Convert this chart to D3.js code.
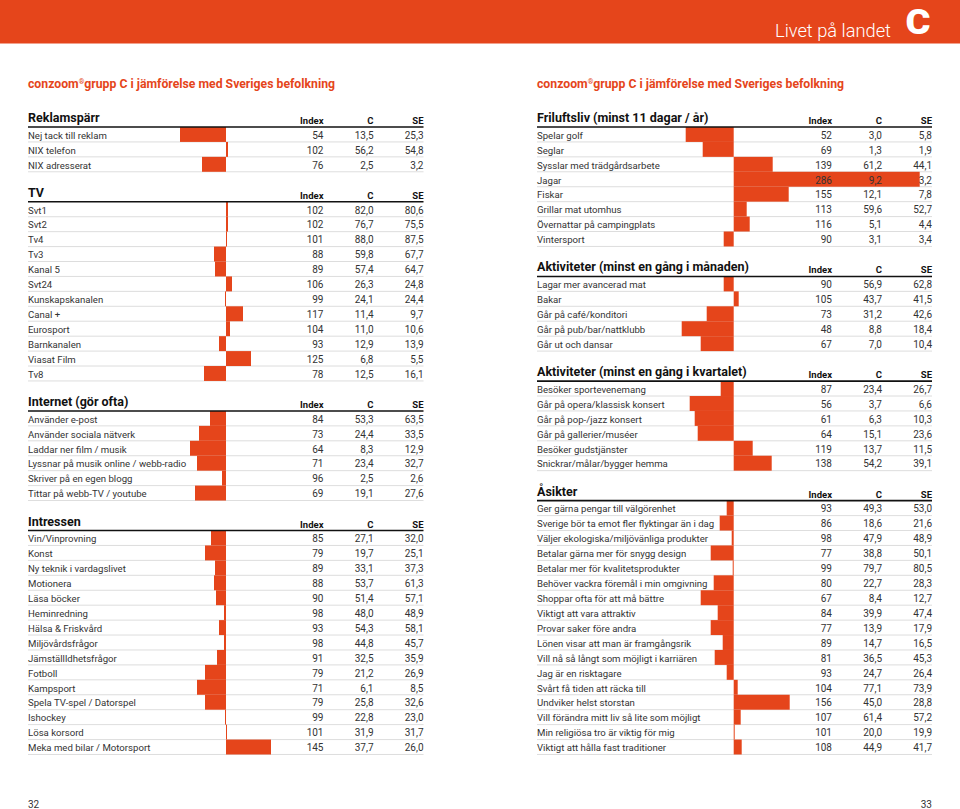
<!DOCTYPE html>
<html><head><meta charset="utf-8">
<script src="https://cdn.jsdelivr.net/npm/d3@7"></script>
<style>body{margin:0;background:#fff} svg{display:block}</style>
</head><body><svg id="c" width="960" height="809"></svg>
<script>
// ---------- DATA ----------
const reklamTitle = "Reklamspärr";
const reklamLabels = ["Nej tack till reklam", "NIX telefon", "NIX adresserat"];
const reklamIndex = [54, 102, 76];
const reklamC = [13.5, 56.2, 2.5];
const reklamSE = [25.3, 54.8, 3.2];

const tvTitle = "TV";
const tvLabels = ["Svt1", "Svt2", "Tv4", "Tv3", "Kanal 5", "Svt24", "Kunskapskanalen", "Canal +", "Eurosport", "Barnkanalen", "Viasat Film", "Tv8"];
const tvIndex = [102, 102, 101, 88, 89, 106, 99, 117, 104, 93, 125, 78];
const tvC = [82.0, 76.7, 88.0, 59.8, 57.4, 26.3, 24.1, 11.4, 11.0, 12.9, 6.8, 12.5];
const tvSE = [80.6, 75.5, 87.5, 67.7, 64.7, 24.8, 24.4, 9.7, 10.6, 13.9, 5.5, 16.1];

const netTitle = "Internet (gör ofta)";
const netLabels = ["Använder e-post", "Använder sociala nätverk", "Laddar ner film / musik", "Lyssnar på musik online / webb-radio", "Skriver på en egen blogg", "Tittar på webb-TV / youtube"];
const netIndex = [84, 73, 64, 71, 96, 69];
const netC = [53.3, 24.4, 8.3, 23.4, 2.5, 19.1];
const netSE = [63.5, 33.5, 12.9, 32.7, 2.6, 27.6];

const intTitle = "Intressen";
const intLabels = ["Vin/Vinprovning", "Konst", "Ny teknik i vardagslivet", "Motionera", "Läsa böcker", "Heminredning", "Hälsa & Friskvård", "Miljövårdsfrågor", "Jämställldhetsfrågor", "Fotboll", "Kampsport", "Spela TV-spel / Datorspel", "Ishockey", "Lösa korsord", "Meka med bilar / Motorsport"];
const intIndex = [85, 79, 89, 88, 90, 98, 93, 98, 91, 79, 71, 79, 99, 101, 145];
const intC = [27.1, 19.7, 33.1, 53.7, 51.4, 48.0, 54.3, 44.8, 32.5, 21.2, 6.1, 25.8, 22.8, 31.9, 37.7];
const intSE = [32.0, 25.1, 37.3, 61.3, 57.1, 48.9, 58.1, 45.7, 35.9, 26.9, 8.5, 32.6, 23.0, 31.7, 26.0];

const friTitle = "Friluftsliv (minst 11 dagar / år)";
const friLabels = ["Spelar golf", "Seglar", "Sysslar med trädgårdsarbete", "Jagar", "Fiskar", "Grillar mat utomhus", "Övernattar på campingplats", "Vintersport"];
const friIndex = [52, 69, 139, 286, 155, 113, 116, 90];
const friC = [3.0, 1.3, 61.2, 9.2, 12.1, 59.6, 5.1, 3.1];
const friSE = [5.8, 1.9, 44.1, 3.2, 7.8, 52.7, 4.4, 3.4];

const manTitle = "Aktiviteter (minst en gång i månaden)";
const manLabels = ["Lagar mer avancerad mat", "Bakar", "Går på café/konditori", "Går på pub/bar/nattklubb", "Går ut och dansar"];
const manIndex = [90, 105, 73, 48, 67];
const manC = [56.9, 43.7, 31.2, 8.8, 7.0];
const manSE = [62.8, 41.5, 42.6, 18.4, 10.4];

const kvaTitle = "Aktiviteter (minst en gång i kvartalet)";
const kvaLabels = ["Besöker sportevenemang", "Går på opera/klassisk konsert", "Går på pop-/jazz konsert", "Går på gallerier/muséer", "Besöker gudstjänster", "Snickrar/målar/bygger hemma"];
const kvaIndex = [87, 56, 61, 64, 119, 138];
const kvaC = [23.4, 3.7, 6.3, 15.1, 13.7, 54.2];
const kvaSE = [26.7, 6.6, 10.3, 23.6, 11.5, 39.1];

const asiTitle = "Åsikter";
const asiLabels = ["Ger gärna pengar till välgörenhet", "Sverige bör ta emot fler flyktingar än i dag", "Väljer ekologiska/miljövänliga produkter", "Betalar gärna mer för snygg design", "Betalar mer för kvalitetsprodukter", "Behöver vackra föremål i min omgivning", "Shoppar ofta för att må bättre", "Viktigt att vara attraktiv", "Provar saker före andra", "Lönen visar att man är framgångsrik", "Vill nå så långt som möjligt i karriären", "Jag är en risktagare", "Svårt få tiden att räcka till", "Undviker helst storstan", "Vill förändra mitt liv så lite som möjligt", "Min religiösa tro är viktig för mig", "Viktigt att hålla fast traditioner"];
const asiIndex = [93, 86, 98, 77, 99, 80, 67, 84, 77, 89, 81, 93, 104, 156, 107, 101, 108];
const asiC = [49.3, 18.6, 47.9, 38.8, 79.7, 22.7, 8.4, 39.9, 13.9, 14.7, 36.5, 24.7, 77.1, 45.0, 61.4, 20.0, 44.9];
const asiSE = [53.0, 21.6, 48.9, 50.1, 80.5, 28.3, 12.7, 47.4, 17.9, 16.5, 45.3, 26.4, 73.9, 28.8, 57.2, 19.9, 41.7];

const columnHeaders = ["Index", "C", "SE"];
const headerText = "Livet på landet";
const headerLetter = "C";
const subtitleA = "conzoom";
const subtitleB = "grupp C i jämförelse med Sveriges befolkning";
const pageLeft = "32", pageRight = "33";

// ---------- BUILD ----------
const mk = (title, labels, idx, c, se) => ({title, rows: labels.map((l, i) => ({label: l, index: idx[i], c: c[i], se: se[i]}))});
const leftSections = [
  mk(reklamTitle, reklamLabels, reklamIndex, reklamC, reklamSE),
  mk(tvTitle, tvLabels, tvIndex, tvC, tvSE),
  mk(netTitle, netLabels, netIndex, netC, netSE),
  mk(intTitle, intLabels, intIndex, intC, intSE)
];
const rightSections = [
  mk(friTitle, friLabels, friIndex, friC, friSE),
  mk(manTitle, manLabels, manIndex, manC, manSE),
  mk(kvaTitle, kvaLabels, kvaIndex, kvaC, kvaSE),
  mk(asiTitle, asiLabels, asiIndex, asiC, asiSE)
];

const ORANGE = "#e5451b";
const TXT = "#333";
const FONT = "Roboto, 'Noto Sans', sans-serif";
const svg = d3.select("#c");
const locale = d3.formatLocale({decimal: ",", thousands: " ", grouping: [3], currency: ["", ""]});
const f1 = locale.format(".1f");

// header band
svg.append("rect").attr("x", 0).attr("y", 0).attr("width", 960).attr("height", 43.5).attr("fill", ORANGE);
svg.append("text").attr("x", 775).attr("y", 37).attr("fill", "#fff")
  .style("font-family", FONT).style("font-weight", 300).style("font-size", "18px")
  .attr("textLength", 116).attr("lengthAdjust", "spacingAndGlyphs").text(headerText);
svg.append("text").attr("x", 905.5).attr("y", 34).attr("fill", "#fff")
  .style("font-family", FONT).style("font-weight", 900).style("font-size", "35px")
  .attr("textLength", 25).attr("lengthAdjust", "spacingAndGlyphs").text(headerLetter);

// subtitles
[28, 537].forEach(x => {
  const t = svg.append("text").attr("x", x).attr("y", 88).attr("fill", ORANGE)
    .style("font-family", FONT).style("font-weight", 700).style("font-size", "12px")
    .attr("textLength", 307).attr("lengthAdjust", "spacingAndGlyphs");
  t.append("tspan").text(subtitleA);
  t.append("tspan").attr("dy", -4).style("font-size", "7px").text("®");
  t.append("tspan").attr("dy", 4).text(subtitleB);
});

// page numbers
svg.append("text").attr("x", 28).attr("y", 808).attr("fill", TXT).style("font-family", FONT).style("font-size", "10px").text(pageLeft);
svg.append("text").attr("x", 932).attr("y", 808).attr("text-anchor", "end").attr("fill", TXT).style("font-family", FONT).style("font-size", "10px").text(pageRight);

const RH = 14.93, GAP = 30, TOP = 127;

function drawPanel(sections, x0, x1, base) {
  // x scale: index -> pixel, 1px per index unit, 100 at baseline
  const x = d3.scaleLinear().domain([0, 300]).range([base - 100, base + 200]);
  const colX = [x1 - 100, x1 - 50, x1];
  let lineY = TOP;
  sections.forEach(sec => {
    const n = sec.rows.length;
    const g = svg.append("g");
    const y = d3.scaleBand().domain(d3.range(n)).range([lineY, lineY + n * RH]).padding(0);
    // title
    g.append("text").attr("x", x0).attr("y", lineY - 5).attr("fill", "#111")
      .style("font-family", FONT).style("font-weight", 700).style("font-size", "12.5px").text(sec.title);
    columnHeaders.forEach((h, i) => {
      g.append("text").attr("x", colX[i]).attr("y", lineY - 3).attr("text-anchor", "end").attr("fill", "#111")
        .style("font-family", FONT).style("font-weight", 700).style("font-size", "9.5px").text(h);
    });
    // row separators
    g.selectAll("line.sep").data(sec.rows).join("line")
      .attr("x1", x0).attr("x2", x1)
      .attr("y1", (d, i) => y(i) + RH).attr("y2", (d, i) => y(i) + RH)
      .attr("stroke", "#d4d4d4").attr("stroke-width", 0.8);
    // bars
    g.selectAll("rect.bar").data(sec.rows).join("rect")
      .attr("x", d => Math.min(x(d.index), x(100)))
      .attr("width", d => Math.abs(x(d.index) - x(100)))
      .attr("y", (d, i) => y(i)).attr("height", y.bandwidth())
      .attr("fill", ORANGE);
    // header line
    g.append("line").attr("x1", x0).attr("x2", x1).attr("y1", lineY).attr("y2", lineY)
      .attr("stroke", "#111").attr("stroke-width", 1.6);
    // labels
    g.selectAll("text.lab").data(sec.rows).join("text")
      .attr("x", x0).attr("y", (d, i) => y(i) + RH - 3.2).attr("fill", TXT)
      .style("font-family", FONT).style("font-size", "9.6px").text(d => d.label);
    const vals = [d => String(d.index), d => f1(d.c), d => f1(d.se)];
    vals.forEach((fn, ci) => {
      g.selectAll("text.v" + ci).data(sec.rows).join("text")
        .attr("x", colX[ci]).attr("y", (d, i) => y(i) + RH - 3.2).attr("text-anchor", "end").attr("fill", TXT)
        .style("font-family", FONT).style("font-size", "10px").text(fn);
    });
    lineY += n * RH + GAP;
  });
}

drawPanel(leftSections, 28, 423.5, 226);
drawPanel(rightSections, 537, 932, 733.7);
</script></body></html>
